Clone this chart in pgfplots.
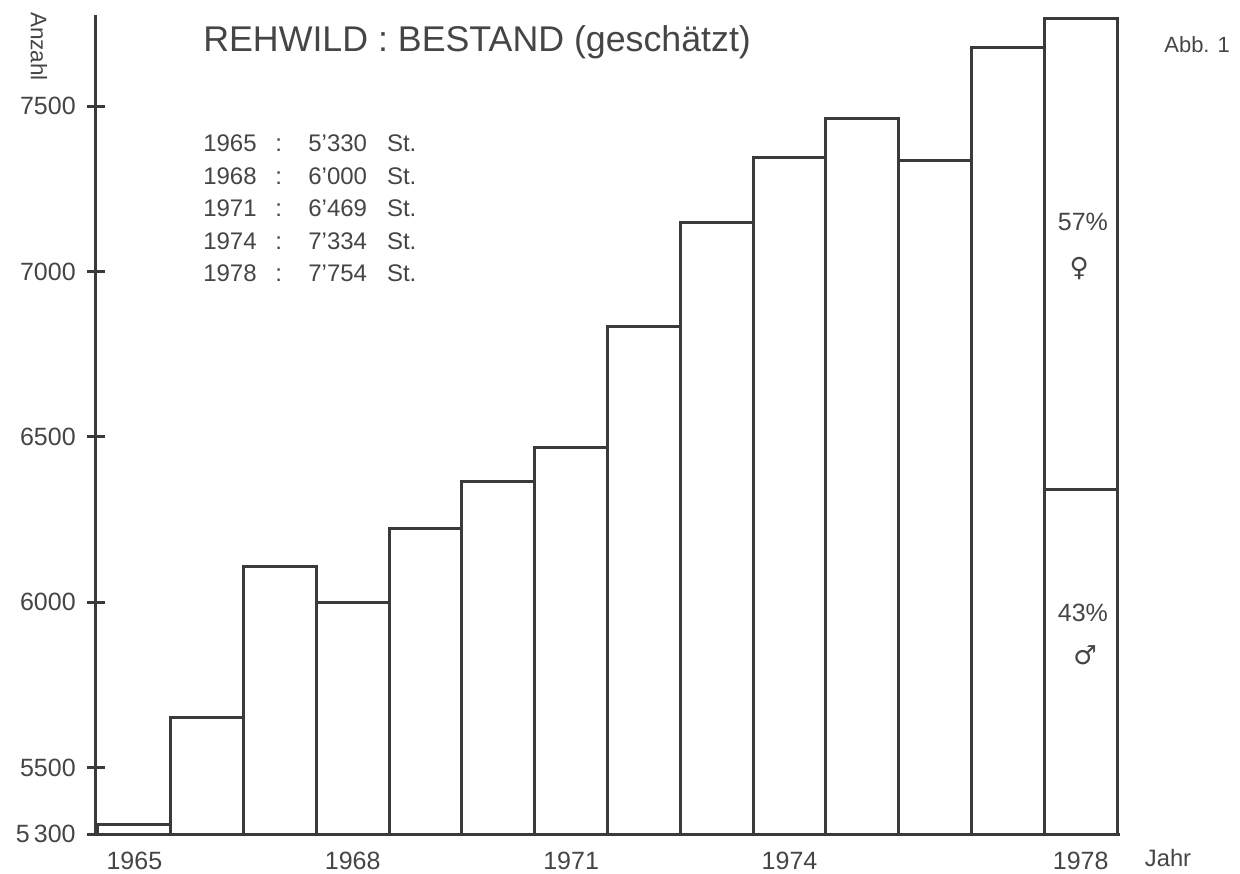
\documentclass[border=0pt]{standalone}
\usepackage{pgfplots}
\pgfplotsset{compat=1.18}
\usepackage{fontspec}
\setmainfont{Liberation Sans}
\newfontfamily\symfont{DejaVu Sans}
\definecolor{ink}{HTML}{3A3A3A}
\definecolor{txt}{HTML}{454545}
\begin{document}
\begin{tikzpicture}
\useasboundingbox (-38.4pt,-15.6pt) rectangle (457.6pt,333.6pt);
\begin{axis}[at={(0,0)}, anchor=south west, scale only axis,
  width=409.6pt, height=327.6pt,
  xmin=1964.473, xmax=1978.54, ymin=5300, ymax=7775,
  axis x line=bottom, axis y line=left,
  axis line style={-, ink, line width=1.2pt},
  xtick={1965,1968,1971,1974,1978},
  xticklabels={1965,1968,1971,1974,1978},
  ytick={5300,5500,6000,6500,7000,7500},
  yticklabels={5\,300,5500,6000,6500,7000,7500},
  major x tick style={draw=none},
  major y tick style={ink, line width=1.2pt},
  tick align=center, major tick length=7.2pt,
  ticklabel style={font=\fontsize{10}{12}\selectfont, text=txt},
  yticklabel style={xshift=-1pt},
  /pgf/number format/assume math mode=true,
  clip mode=individual,
]
\addplot[ybar, bar width=1, bar shift=0pt, draw=ink, fill=none, line width=1.2pt]
  coordinates {
  (1965,5330) (1966,5653) (1967,6107) (1968,6001) (1969,6224) (1970,6366)
  (1971,6469) (1972,6835) (1973,7149) (1974,7345) (1975,7463) (1976,7336)
  (1977,7678) (1978,7765)};
\addplot[ink, line width=1.2pt] coordinates {(1977.5,6342) (1978.5,6342)};

\node[anchor=west, inner sep=0pt, text=txt, font=\fontsize{14.3}{16}\selectfont] at (axis cs:1965.94,7693) {REHWILD : BESTAND (geschätzt)};
\node[anchor=north west, text=txt, font=\fontsize{9.6}{13}\selectfont, inner sep=0pt] at (axis cs:1965.94,7432)
 {\begin{tabular}{@{}l@{\hspace{7.5pt}}c@{\hspace{10.5pt}}r@{\hspace{8pt}}l@{}}
 1965 & : & 5'330 & St.\\
 1968 & : & 6'000 & St.\\
 1971 & : & 6'469 & St.\\
 1974 & : & 7'334 & St.\\
 1978 & : & 7'754 & St.
 \end{tabular}};
\node[text=txt, font=\fontsize{8.8}{10}\selectfont] at (axis cs:1979.6,7684) {Abb. 1};
\node[text=txt, font=\fontsize{9.5}{11}\selectfont] at (axis cs:1979.2,5227) {Jahr};
\node[text=txt, rotate=-90, font=\fontsize{9}{10}\selectfont] at (axis cs:1963.69,7680) {Anzahl};
\node[text=txt, font=\fontsize{10}{11}\selectfont] at (axis cs:1978.03,7149) {57\%};
\node[text=txt, font=\symfont\fontsize{10.5}{12}\selectfont] at (axis cs:1977.98,7010) {♀};
\node[text=txt, font=\fontsize{10}{11}\selectfont] at (axis cs:1978.03,5968) {43\%};
\node[text=txt, font=\symfont\fontsize{10.5}{12}\selectfont] at (axis cs:1978.06,5841) {♂};
\end{axis}
\end{tikzpicture}
\end{document}
